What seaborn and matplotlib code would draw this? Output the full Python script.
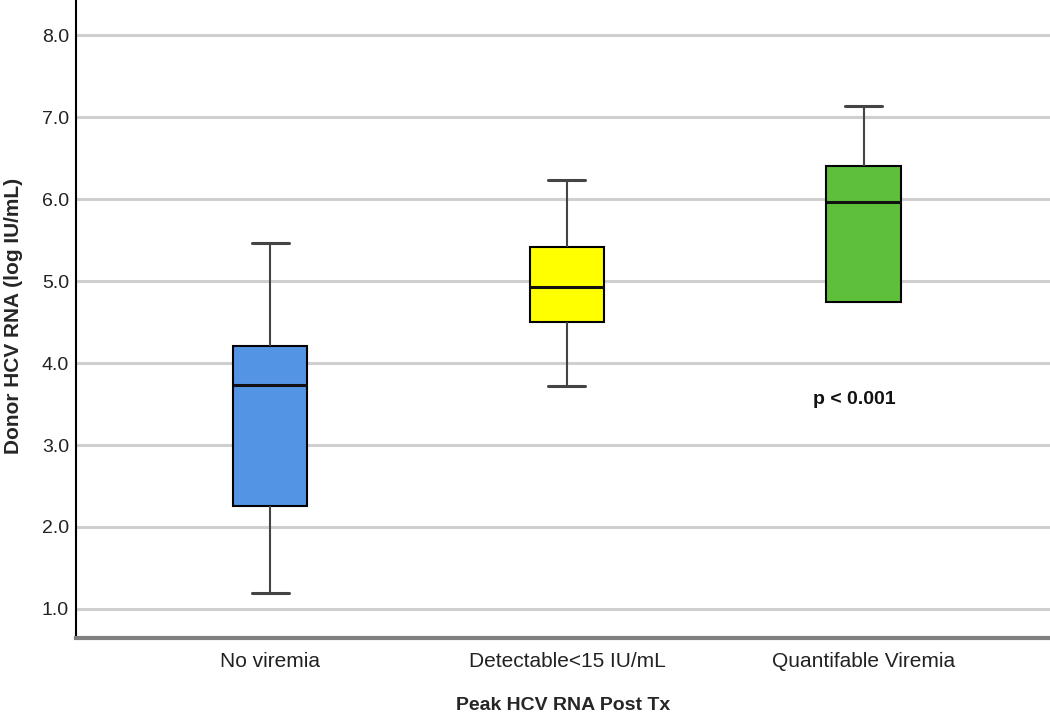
import numpy as np
import pandas as pd
import seaborn as sns
import matplotlib
matplotlib.use("Agg")
import matplotlib.pyplot as plt

categories = ["No viremia", "Detectable<15 IU/mL", "Quantifable Viremia"]
# five-number summaries per group: min, Q1, median, Q3, max (log IU/mL)
no_viremia = [1.19, 2.26, 3.73, 4.21, 5.47]
detectable = [3.72, 4.50, 4.93, 5.41, 6.23]
quantifiable = [4.74, 4.74, 5.97, 6.41, 7.14]
colors = ["#5494E4", "#FFFF00", "#5EC03A"]
yticks = [1.0, 2.0, 3.0, 4.0, 5.0, 6.0, 7.0, 8.0]

df = pd.DataFrame({
    "group": np.repeat(categories, 5),
    "value": no_viremia + detectable + quantifiable,
})

sns.set_style("white")
plt.rcParams["font.family"] = ["Liberation Sans", "DejaVu Sans"]

fig = plt.figure(figsize=(10.5, 7.2), dpi=100)
ax = fig.add_axes([0.0724, 0.114, 0.928, 0.886])

for y in yticks:
    ax.axhline(y, color="#CFCFCF", lw=2.2, zorder=0)

sns.boxplot(data=df, x="group", y="value", hue="group", order=categories,
            hue_order=categories, palette=colors, legend=False, width=0.25,
            whis=(0, 100), linecolor="black", linewidth=1.5, saturation=1,
            ax=ax,
            whiskerprops=dict(color="#444444", lw=1.5),
            capprops=dict(color="#444444", lw=2.2),
            medianprops=dict(color="#111111", lw=2.2))

# hide zero-length lower whisker cap of the last group (no lower whisker shown)
for ln in ax.lines:
    xs, ys = np.asarray(ln.get_xdata(), float), np.asarray(ln.get_ydata(), float)
    if len(ys) == 2 and np.allclose(ys, quantifiable[0]) and xs.min() > 1.5:
        if np.ptp(xs) < 0.2:
            ln.set_visible(False)

ax.set_xlim(-0.655, 2.63)
ax.set_ylim(0.646, 8.43)
ax.set_yticks(yticks)
ax.set_yticklabels([f"{v:.1f}" for v in yticks], fontsize=14, color="#222222")
ax.tick_params(axis="x", labelsize=15, pad=10, length=0, colors="#222222")
ax.tick_params(axis="y", length=0, pad=5)

for s in ["top", "right"]:
    ax.spines[s].set_visible(False)
ax.spines["left"].set_color("black")
ax.spines["left"].set_linewidth(1.5)
ax.spines["bottom"].set_color("#808080")
ax.spines["bottom"].set_linewidth(3)

ax.set_xlabel("Peak HCV RNA Post Tx", fontsize=14, fontweight="bold")
ax.xaxis.set_label_coords(0.5, -0.092)
ax.set_ylabel("Donor HCV RNA (log IU/mL)", fontsize=15, fontweight="bold")
ax.yaxis.set_label_coords(-0.054, 0.505)

ax.text(1.97, 3.55, "p < 0.001", ha="center", va="center", fontsize=14,
        fontweight="bold", color="#111111")

fig.savefig("out.png", dpi=100)
